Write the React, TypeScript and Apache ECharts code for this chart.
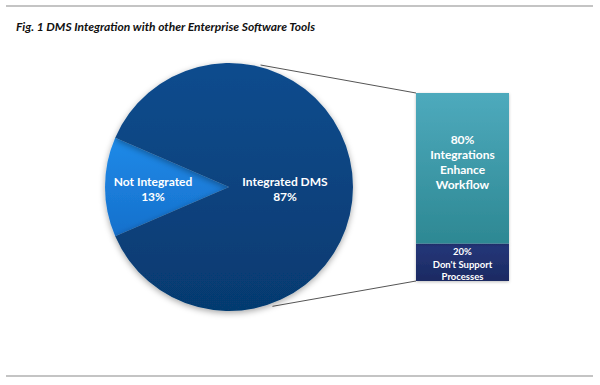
import React, { useEffect, useRef } from "react";
import * as echarts from "echarts";

const titleText = "Fig. 1 DMS Integration with other Enterprise Software Tools";
const pieCategories = ["Not Integrated", "Integrated DMS"];
const pieValues = [13, 87];
const barCategories = ["Don't Support\nProcesses", "Integrations\nEnhance\nWorkflow"];
const barValues = [20, 80];

export default function App() {
  const ref = useRef<HTMLDivElement>(null);
  useEffect(() => {
    if (!ref.current) return;
    const chart = echarts.init(ref.current, null, { renderer: "svg" });
    const cx = 229, cy = 187, R = 124;
    const gLeft = 416, gTop = 93, gW = 93, gH = 188;
    const startAngle = 180 + (pieValues[0] / (pieValues[0] + pieValues[1])) * 180;
    const pt = (deg: number, r: number) => [cx + r * Math.cos((deg * Math.PI) / 180), cy - r * Math.sin((deg * Math.PI) / 180)];
    const p1 = pt(75.5, R + 2);
    const p2 = pt(-70, R + 3);
    const pieColors = [
      new echarts.graphic.LinearGradient(0, 0, 0, 1, [
        { offset: 0, color: "#1f8ae8" },
        { offset: 1, color: "#1670cc" },
      ]),
      new echarts.graphic.LinearGradient(0, 0, 0, 1, [
        { offset: 0, color: "#0c4c8e" },
        { offset: 1, color: "#063a70" },
      ]),
    ];
    const barColors = [
      new echarts.graphic.LinearGradient(0, 0, 0, 1, [
        { offset: 0, color: "#25377a" },
        { offset: 1, color: "#1b2a62" },
      ]),
      new echarts.graphic.LinearGradient(0, 0, 0, 1, [
        { offset: 0, color: "#4eaabd" },
        { offset: 1, color: "#2d8893" },
      ]),
    ];
    chart.setOption({
      animation: false,
      backgroundColor: "#ffffff",
      title: {
        text: titleText,
        left: 11,
        top: 15,
        textStyle: { fontFamily: "Lato", fontSize: 12, fontWeight: "bold", fontStyle: "italic", color: "#111" },
      },
      grid: { left: gLeft, top: gTop, width: gW, height: gH },
      xAxis: { type: "category", data: ["bar"], show: false },
      yAxis: { type: "value", min: 0, max: 100, show: false },
      series: [
        {
          type: "pie",
          center: [cx, cy],
          radius: R,
          startAngle,
          clockwise: true,
          data: pieCategories.map((n, i) => ({ name: n, value: pieValues[i], itemStyle: { color: pieColors[i] } })),
          itemStyle: { shadowBlur: 6, shadowColor: "rgba(0,0,0,0.35)", shadowOffsetY: 2 },
          label: {
            position: "inside",
            formatter: (p: any) => `${p.name}\n${p.value}%`,
            color: "#fff",
            fontFamily: "Lato",
            fontWeight: "bold",
            fontSize: 12,
            lineHeight: 15,
          },
          labelLayout: (p: any) => ({ dx: p.dataIndex === 0 ? -11 : -9, dy: 2 }),
          emphasis: { disabled: true },
        },
        ...barValues.map((v, i) => ({
          type: "bar",
          stack: "s",
          name: barCategories[i],
          data: [v],
          barWidth: "100%",
          itemStyle: { color: barColors[i], shadowBlur: 3, shadowColor: "rgba(0,0,0,0.25)", shadowOffsetY: 1 },
          label: {
            show: true,
            position: "inside",
            offset: i === 0 ? [0, 2] : [0, -6],
            formatter: (p: any) => `${p.value}%\n${barCategories[i]}`,
            color: "#fff",
            fontFamily: "Lato",
            fontWeight: "bold",
            fontSize: i === 0 ? 9.5 : 12,
            lineHeight: i === 0 ? 12.5 : 15,
          },
        })),
      ],
      graphic: [
        { type: "line", shape: { x1: 6, y1: 6, x2: 593, y2: 6 }, style: { stroke: "#c4c4c4", lineWidth: 2 } },
        { type: "line", shape: { x1: 6, y1: 376, x2: 593, y2: 376 }, style: { stroke: "#c4c4c4", lineWidth: 2 } },
        { type: "line", shape: { x1: p1[0], y1: p1[1], x2: gLeft, y2: gTop }, style: { stroke: "#555", lineWidth: 1 } },
        { type: "line", shape: { x1: p2[0], y1: p2[1], x2: gLeft, y2: gTop + gH }, style: { stroke: "#555", lineWidth: 1 } },
      ],
    });
    return () => chart.dispose();
  }, []);
  return <div ref={ref} style={{ position: "fixed", left: 0, top: 0, width: 600, height: 385 }} />;
}
